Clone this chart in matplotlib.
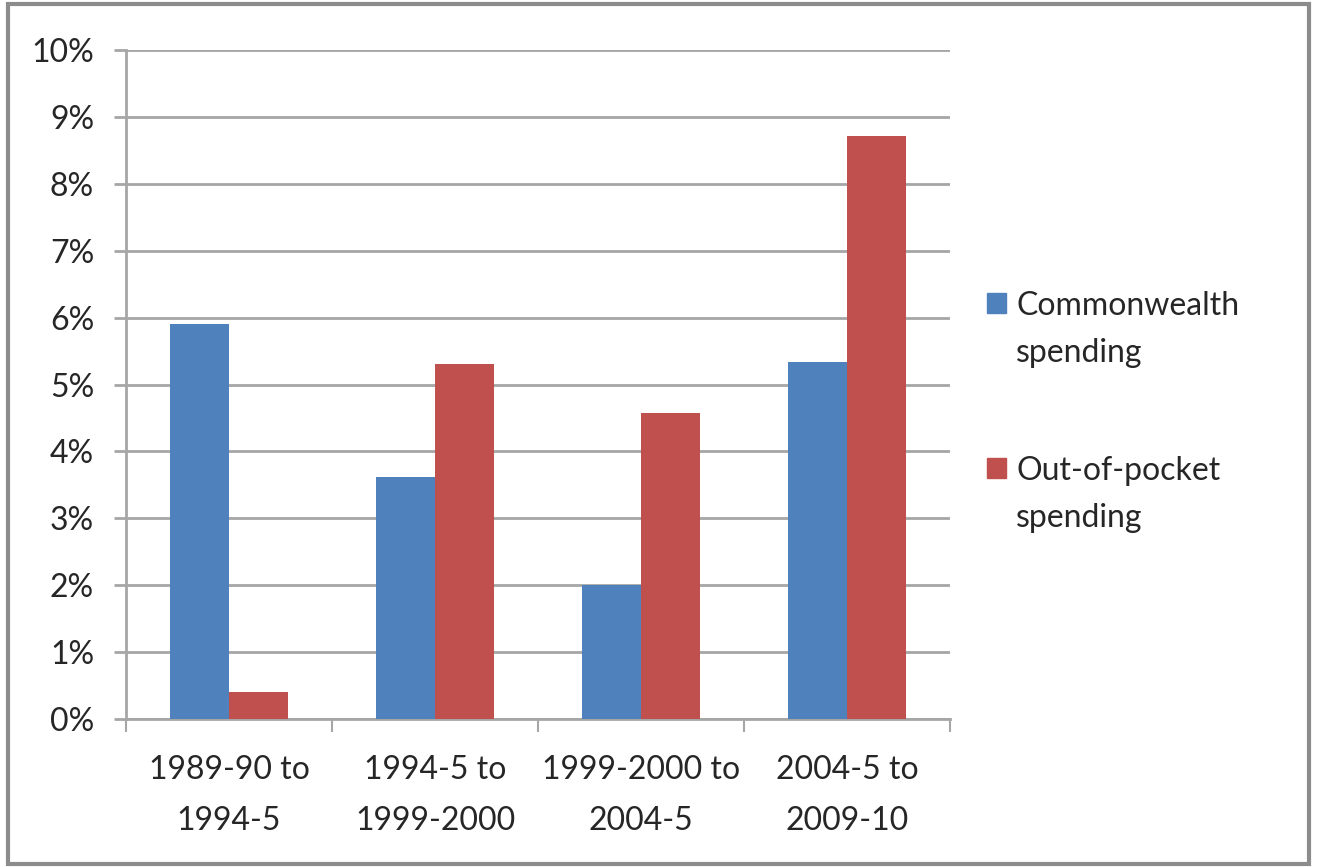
import numpy as np
import matplotlib.pyplot as plt
from matplotlib.patches import Rectangle
from matplotlib.ticker import FuncFormatter

plt.rcParams['font.family'] = ['Lato', 'DejaVu Sans']

# growth periods
periods = ['1989-90 to\n1994-5', '1994-5 to\n1999-2000', '1999-2000 to\n2004-5', '2004-5 to\n2009-10']
# average annual growth (%)
commonwealth = [5.9, 3.62, 2.0, 5.33]
out_of_pocket = [0.41, 5.31, 4.57, 8.72]
series_names = [['Commonwealth', 'spending'], ['Out-of-pocket', 'spending']]

blue = '#4f81bd'
red = '#c0504d'
grid_col = '#a6a6a6'
txt_col = '#262626'

W, H = 1317, 867
fig = plt.figure(figsize=(W / 100, H / 100), dpi=100)
ax = fig.add_axes([0.0957, 0.1707, 0.6256, 0.7716])

x = np.arange(len(periods))
w = 0.286
ax.bar(x - w / 2, commonwealth, w, color=blue, zorder=3)
ax.bar(x + w / 2, out_of_pocket, w, color=red, zorder=3)

ax.set_xlim(-0.5, len(periods) - 0.5)
ax.set_ylim(0, 10)
ax.set_yticks(range(0, 11))
ax.yaxis.set_major_formatter(FuncFormatter(lambda v, p: '%d%%' % v))
ax.yaxis.grid(True, color=grid_col, linewidth=2, zorder=0)

# category ticks sit between groups
ax.set_xticks(np.arange(-0.5, len(periods), 1.0))
ax.set_xticklabels([])
ax.set_xticks(x, minor=True)
ax.set_xticklabels(periods, minor=True, fontsize=23, color=txt_col, linespacing=1.88)
ax.tick_params(axis='x', which='minor', length=0, pad=26)
ax.tick_params(axis='x', which='major', length=9, width=1.5, color=grid_col, direction='out')
ax.tick_params(axis='y', length=9, width=2, color=grid_col, labelsize=23,
               labelcolor=txt_col, pad=14)

for s in ['top', 'right']:
    ax.spines[s].set_visible(False)
for s in ['left', 'bottom']:
    ax.spines[s].set_color(grid_col)
    ax.spines[s].set_linewidth(2)

# legend, drawn by hand so the marker lines up with the first text line
leg_colors = [blue, red]
leg_base = [315, 480]   # baseline of first line, px from top
for names, col, yb in zip(series_names, leg_colors, leg_base):
    fig.patches.append(Rectangle((987 / W, 1 - (yb - 2) / H), 19 / W, 20 / H,
                                 transform=fig.transFigure, color=col))
    fig.text(1016 / W, 1 - yb / H, names[0], fontsize=23, color=txt_col, va='baseline')
    fig.text(1016 / W, 1 - (yb + 47) / H, names[1], fontsize=23, color=txt_col, va='baseline')

# grey frame round the whole picture
fig.patches.append(Rectangle((0.006, 0.003), 0.988, 0.992, transform=fig.transFigure,
                             fill=False, edgecolor='#8c8c8c', linewidth=3))

fig.savefig('out.png', dpi=100)
